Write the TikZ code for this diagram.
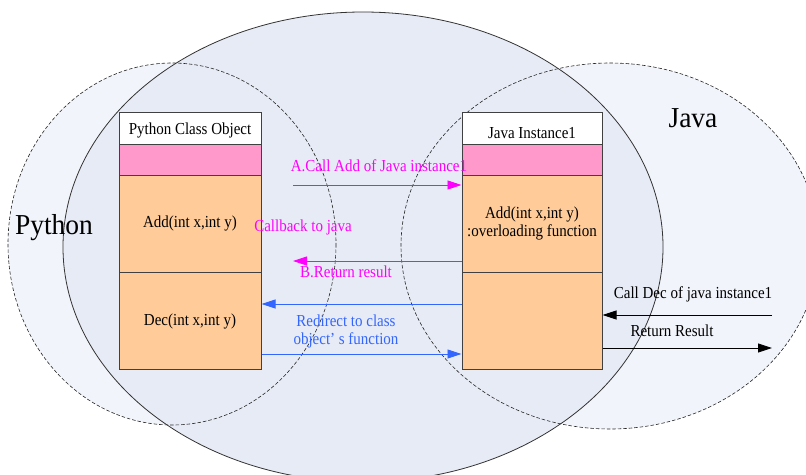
\documentclass[tikz,border=0pt]{standalone}
\usepackage{fontspec}
\setmainfont{Liberation Serif}
\usetikzlibrary{arrows.meta}
\definecolor{pinkfill}{HTML}{FF99CC}
\definecolor{orangefill}{HTML}{FFCC99}
\definecolor{magtext}{HTML}{FF00FF}
\definecolor{bluetext}{HTML}{3366FF}
\definecolor{innerfill}{HTML}{E7EBF5}
\definecolor{outerfill}{HTML}{F1F4FA}
\definecolor{boxline}{HTML}{404040}
\begin{document}
\begin{tikzpicture}[x=1pt,y=-1pt,
  cell/.style={draw=boxline, line width=1pt, inner sep=0pt, minimum width=#1},
  cell/.default=142pt,
  lbl/.style={font=\fontsize{15}{16}\selectfont, inner sep=0pt, align=center, yscale=1.12},
  big/.style={font=\fontsize{27.5}{30}\selectfont, inner sep=0pt, yscale=1.05},
  arr/.style={line width=0.9pt, -{Triangle[length=14pt,width=9pt]}},
  dashline/.style={draw=black!85, dashed, dash pattern=on 3.5pt off 2pt, line width=0.6pt},
]
\useasboundingbox (0,0) rectangle (806,474);
\begin{scope}
  \clip (0,0) rectangle (806,474);
  \fill[outerfill] (172,244) ellipse [x radius=164, y radius=181];
  \fill[outerfill] (610,246) ellipse [x radius=209, y radius=183];
  \fill[innerfill] (363,247) ellipse [x radius=300, y radius=235];
  \draw[dashline] (172,244) ellipse [x radius=164, y radius=181];
  \draw[dashline] (610,246) ellipse [x radius=209, y radius=183];
  \draw[black!80, line width=0.8pt] (363,247) ellipse [x radius=300, y radius=235];
\end{scope}

% Python box
\node[cell, fill=white, minimum height=32pt] (ptitle) at (190,128) {};
\node[cell, fill=pinkfill, minimum height=31pt] (ppink) at (190,159.5) {};
\node[cell, fill=orangefill, minimum height=97pt] (padd) at (190,223.5) {};
\node[cell, fill=orangefill, minimum height=97pt] (pdec) at (190,320.5) {};
% Java box
\node[cell=140pt, fill=white, minimum height=32pt] (jtitle) at (532,128) {};
\node[cell=140pt, fill=pinkfill, minimum height=31pt] (jpink) at (532,159.5) {};
\node[cell=140pt, fill=orangefill, minimum height=97pt] (jadd) at (532,223.5) {};
\node[cell=140pt, fill=orangefill, minimum height=97pt] (jdec) at (532,320.5) {};

\node[lbl] (ptitletext) at (190,130) {Python Class Object};
\node[lbl] (paddtext) at (190,223) {Add(int x,int y)};
\node[lbl] (pdectext) at (190,321) {Dec(int x,int y)};
\node[lbl] (jtitletext) at (532,133) {Java Instance1};
\node[lbl] (jaddtext) at (532,223.5) {Add(int x,int y)\\:overloading function};

\node[big] (python) at (54,228) {Python};
\node[big] (java) at (693,118) {Java};

% magenta arrows
\coordinate (aStart) at (293,185);
\draw[arr, magtext] (aStart) -- (aStart -| jadd.west);
\node[lbl, text=magtext] (atext) at (379,166) {A.Call Add of Java instance1};
\node[lbl, text=magtext] (cbtext) at (303,227) {Callback to java};
\coordinate (bEnd) at (293,261);
\draw[arr, magtext] (bEnd -| jadd.west) -- (bEnd);
\node[lbl, text=magtext] (btext) at (346,272) {B.Return result};

% blue arrows
\draw[arr, bluetext] ([yshift=16.5pt]jdec.west) -- ([yshift=16.5pt]pdec.east);
\node[lbl, text=bluetext] (redirtext) at (346,331.5) {Redirect to class\\object’ s function};
\draw[arr, bluetext] ([yshift=-33.5pt]pdec.east) -- ([yshift=-33.5pt]jdec.west);

% black arrows
\coordinate (callStart) at (772,315);
\draw[arr, black] (callStart) -- (callStart -| jdec.east);
\node[lbl] (calltext) at (693,294) {Call Dec of java instance1};
\coordinate (retEnd) at (772,348);
\draw[arr, black] (retEnd -| jdec.east) -- (retEnd);
\node[lbl] (rettext) at (672,331) {Return Result};
\end{tikzpicture}
\end{document}
